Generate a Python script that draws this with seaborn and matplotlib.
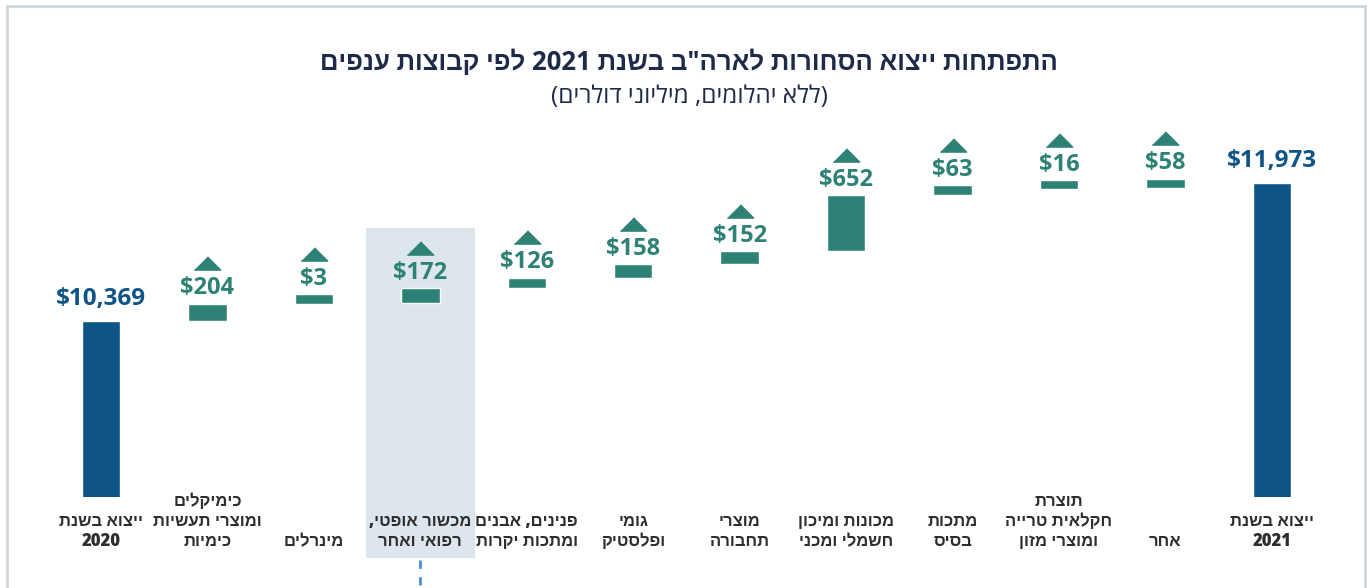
import re
import numpy as np
import pandas as pd
import matplotlib
matplotlib.use('Agg')
import matplotlib.pyplot as plt
from matplotlib.patches import Rectangle
import matplotlib.transforms as mtransforms
import seaborn as sns

# data (millions of USD)
categories = ['ייצוא בשנת\n2020', 'כימיקלים\nומוצרי תעשיות\nכימיות', 'מינרלים',
              'מכשור אופטי,\nרפואי ואחר', 'פנינים, אבנים\nומתכות יקרות', 'גומי\nופלסטיק',
              'מוצרי\nתחבורה', 'מכונות ומיכון\nחשמלי ומכני', 'מתכות\nבסיס',
              'תוצרת\nחקלאית טרייה\nומוצרי מזון', 'אחר', 'ייצוא בשנת\n2021']
start_2020 = 10369
end_2021 = 11973
changes = [204, 3, 172, 126, 158, 152, 652, 63, 16, 58]

title = 'התפתחות ייצוא הסחורות לארה"ב בשנת 2021 לפי קבוצות ענפים'
subtitle = '(ללא יהלומים, מיליוני דולרים)'

BLUE = '#0f5487'
TEAL = '#2e8275'
NAVY = '#1d2a48'
GREY = '#2e2e2e'
HEB = ['Open Sans', 'Liberation Sans', 'DejaVu Sans']


def rtl(s):
    # matplotlib has no bidi support: reverse Hebrew, keep numbers LTR
    lines = []
    for line in s.split('\n'):
        out = line[::-1]
        out = re.sub(r'[0-9][0-9,.]*', lambda m: m.group(0)[::-1], out)
        lines.append(out.translate(str.maketrans('()', ')(')))
    return '\n'.join(lines)


sns.set_theme(style='white')
plt.rcParams['font.family'] = HEB

fig = plt.figure(figsize=(13.7, 5.88), dpi=100)
ax = fig.add_axes([0.0349, 0.1548, 0.9323, 0.624])

labels = [rtl(c) for c in categories]
totals = pd.DataFrame({'cat': [labels[0], labels[-1]], 'value': [start_2020, end_2021]})
sns.barplot(data=totals, x='cat', y='value', order=labels, color=BLUE,
            saturation=1, width=0.36, ax=ax)

# floating boxes
bottoms = start_2020 + np.concatenate([[0], np.cumsum(changes)[:-1]])
min_h = 110
heights = np.maximum(changes, min_h)
pos = np.arange(1, len(changes) + 1)
ax.bar(pos, heights, bottom=bottoms, width=0.36, color=TEAL, zorder=3)

ax.set_xlim(-0.5, len(labels) - 0.5)
ax.set_ylim(8323, 12590)
ax.set_xticks([])
ax.set_yticks([])
ax.set_xlabel('')
ax.set_ylabel('')
for sp in ax.spines.values():
    sp.set_visible(False)

# total value labels
for x, v in [(0, start_2020), (len(labels) - 1, end_2021)]:
    ax.annotate(f'${v:,}', (x, v), xytext=(0, 16), textcoords='offset points',
                ha='center', va='center', fontsize=17.5, fontweight='bold',
                color=BLUE, family='Open Sans')

# change labels and triangles
tri = [(-1, -0.5), (1, -0.5), (0, 0.5)]
for x, b, h, v in zip(pos, bottoms, heights, changes):
    top = b + h
    ax.annotate(f'${v:,}', (x, top), xytext=(0, 11), textcoords='offset points',
                ha='center', va='center', fontsize=17, fontweight='bold',
                color=TEAL, family='Open Sans')
    tr = mtransforms.offset_copy(ax.transData, fig=fig, x=0, y=29, units='points')
    ax.plot([x], [top], marker=tri, markersize=19, color=TEAL, transform=tr,
            linestyle='none', clip_on=False)

# category labels
blend = mtransforms.blended_transform_factory(ax.transData, ax.transAxes)
for i, lab in enumerate(labels):
    ax.text(i, -0.145, lab, transform=blend, ha='center', va='bottom',
            multialignment='center', fontsize=12, fontweight='heavy',
            color=GREY, linespacing=1.25, family=HEB)

# highlight behind the optical column
ax.add_patch(Rectangle((3 - 0.515, -0.166), 1.03, 0.899, transform=blend,
                       facecolor='#dde6ed', edgecolor='none', zorder=0, clip_on=False))
ax.plot([3, 3], [-0.172, -0.26], transform=blend, color='#4a8fd6', lw=2,
        linestyle=(0, (3, 3)), clip_on=False)

# titles
fig.text(0.503, 0.893, rtl(title), ha='center', va='center', fontsize=18.5,
         fontweight='bold', color=NAVY, family=HEB)
fig.text(0.503, 0.835, rtl(subtitle), ha='center', va='center', fontsize=17.5,
         color=NAVY, family=HEB)

# frame
fig.patches.append(Rectangle((7 / 1370, -0.1), 1358 / 1370, 1.0898, transform=fig.transFigure,
                             fill=False, edgecolor='#cfd6da', lw=2))

fig.savefig('out.png', dpi=100)
